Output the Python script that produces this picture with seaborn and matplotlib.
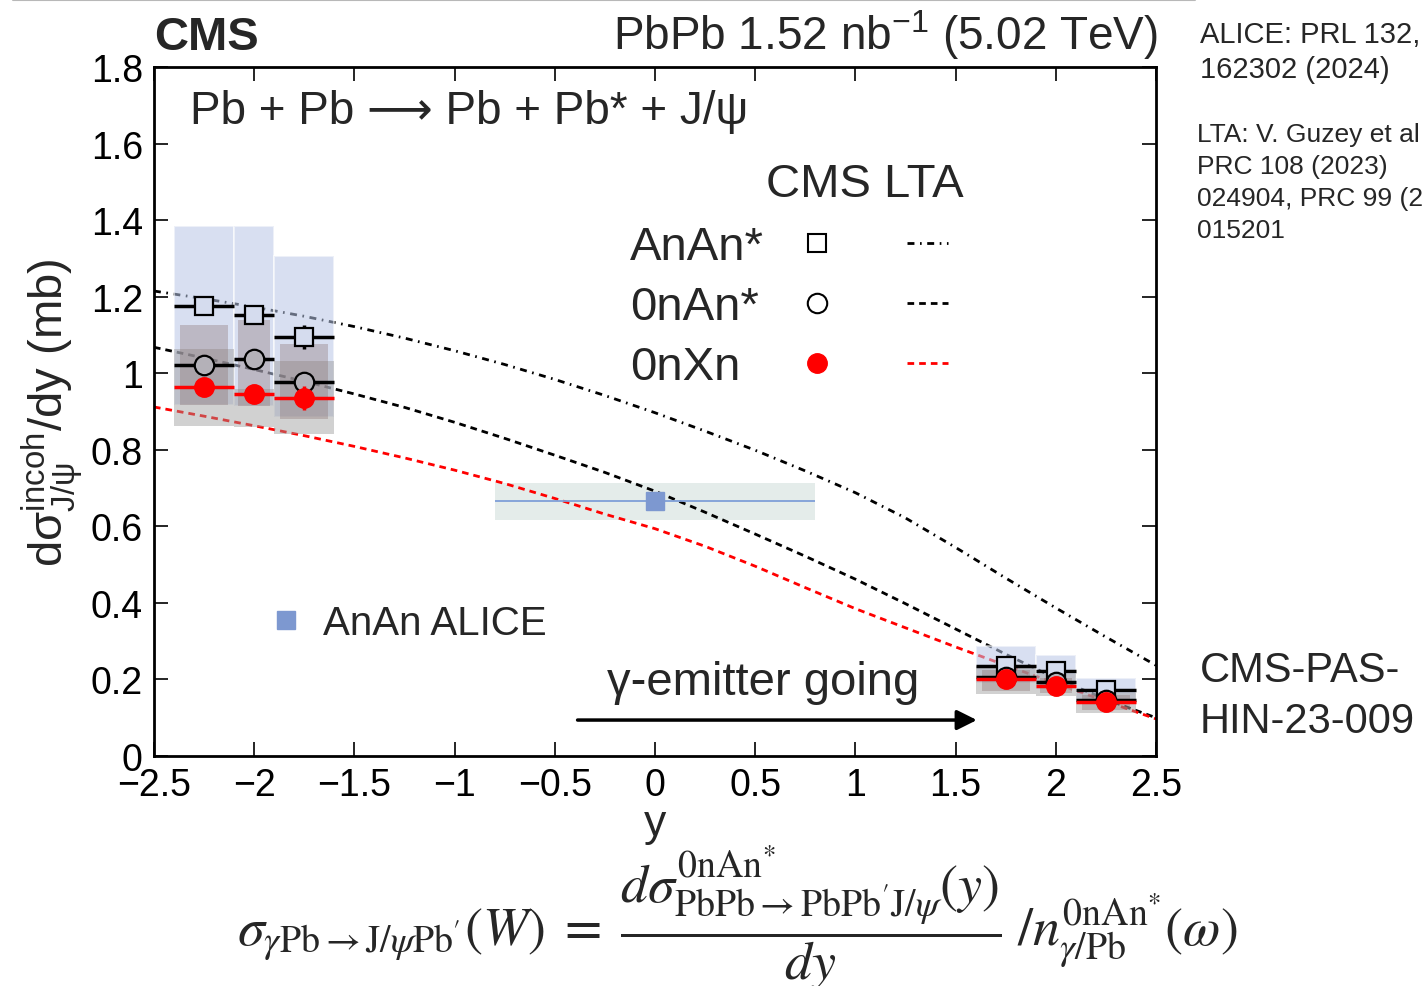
import numpy as np
import seaborn as sns
import matplotlib.pyplot as plt
from matplotlib.lines import Line2D
from matplotlib.legend_handler import HandlerTuple

# --- LTA theory curves ---
y_grid = [-2.5, -2.25, -2.0, -1.75, -1.5, -1.25, -1.0, -0.75, -0.5, -0.25, 0.0,
          0.25, 0.5, 0.75, 1.0, 1.25, 1.5, 1.75, 2.0, 2.25, 2.5]
lta_anan = [1.215, 1.195, 1.173, 1.149, 1.122, 1.092, 1.059, 1.023, 0.984, 0.942, 0.897,
            0.849, 0.799, 0.745, 0.688, 0.622, 0.545, 0.465, 0.387, 0.311, 0.237]
lta_0nan = [1.068, 1.040, 1.010, 0.979, 0.946, 0.911, 0.872, 0.830, 0.786, 0.741, 0.692,
            0.637, 0.580, 0.522, 0.462, 0.398, 0.332, 0.266, 0.203, 0.148, 0.100]
lta_0nxn = [0.912, 0.888, 0.863, 0.837, 0.809, 0.779, 0.747, 0.712, 0.673, 0.632, 0.594,
            0.548, 0.496, 0.440, 0.385, 0.335, 0.285, 0.237, 0.190, 0.143, 0.097]

# --- CMS measurements ---
bin_centers = [-2.25, -2.0, -1.75, 1.75, 2.0, 2.25]
bin_halfw = [0.15, 0.1, 0.15, 0.15, 0.1, 0.15]

anan = [1.176, 1.152, 1.095, 0.236, 0.222, 0.172]
anan_stat = [0.02, 0.02, 0.032, 0.01, 0.01, 0.01]
anan_sys_lo = [0.917, 0.914, 0.886, 0.19, 0.175, 0.14]
anan_sys_hi = [1.385, 1.385, 1.306, 0.287, 0.264, 0.204]

onan = [1.021, 1.037, 0.977, 0.206, 0.193, 0.147]
onan_stat = [0.02, 0.02, 0.02, 0.01, 0.01, 0.01]
onan_sys_lo = [0.862, 0.859, 0.841, 0.162, 0.157, 0.112]
onan_sys_hi = [1.063, 0.96, 1.032, 0.235, 0.215, 0.165]

onxn = [0.964, 0.946, 0.935, 0.200, 0.182, 0.140]
onxn_stat = [0.015, 0.015, 0.032, 0.01, 0.01, 0.01]
onxn_sys_lo = [0.917, 0.914, 0.880, 0.17, 0.165, 0.12]
onxn_sys_hi = [1.126, 1.139, 1.076, 0.225, 0.205, 0.16]

# --- ALICE point ---
alice_x = [0.0]
alice_xerr = [0.8]
alice_y = [0.666]
alice_stat = [0.025]
alice_sys_lo = [0.617]
alice_sys_hi = [0.713]

xtick_vals = [-2.5, -2.0, -1.5, -1.0, -0.5, 0.0, 0.5, 1.0, 1.5, 2.0, 2.5]
xtick_labels = ['\u22122.5', '\u22122', '\u22121.5', '\u22121', '\u22120.5', '0',
                '0.5', '1', '1.5', '2', '2.5']
ytick_vals = [0.0, 0.2, 0.4, 0.6, 0.8, 1.0, 1.2, 1.4, 1.6, 1.8]
ytick_labels = ['0', '0.2', '0.4', '0.6', '0.8', '1', '1.2', '1.4', '1.6', '1.8']

sns.set_theme(style='ticks')
plt.rcParams['font.family'] = ['Liberation Sans', 'DejaVu Sans']
plt.rcParams['mathtext.fontset'] = 'custom'
plt.rcParams['mathtext.rm'] = 'Liberation Sans'
plt.rcParams['mathtext.it'] = 'Liberation Sans:italic'

fig = plt.figure(figsize=(14.24, 9.87), dpi=100)
ax = fig.add_axes([0.1081, 0.233, 0.7037, 0.698])

dashdot = (0, (2.5, 2.0, 0.6, 2.0))
dashed = (0, (2.4, 1.8))

# theory curves
sns.lineplot(x=y_grid, y=lta_anan, ax=ax, color='black', lw=2, linestyle=dashdot, zorder=2)
sns.lineplot(x=y_grid, y=lta_0nan, ax=ax, color='black', lw=2, linestyle=dashed, zorder=2)
sns.lineplot(x=y_grid, y=lta_0nxn, ax=ax, color='red', lw=2, linestyle=dashed, zorder=2)

c = np.array(bin_centers)
hw = np.array(bin_halfw)

# systematic boxes
ax.bar(c - hw, np.array(anan_sys_hi) - np.array(anan_sys_lo), width=2 * hw,
       bottom=anan_sys_lo, align='edge', color='#b8c6e6', alpha=0.55,
       edgecolor='white', lw=1.5, zorder=3)
ax.bar(c - hw, np.array(onan_sys_hi) - np.array(onan_sys_lo), width=2 * hw,
       bottom=onan_sys_lo, align='edge', color='#9a9a9a', alpha=0.45, lw=0, zorder=3)
ax.bar(c - 0.8 * hw, np.array(onxn_sys_hi) - np.array(onxn_sys_lo), width=1.6 * hw,
       bottom=onxn_sys_lo, align='edge', color='#8a7070', alpha=0.35, lw=0, zorder=3)

# ALICE
ax.bar(np.array(alice_x) - np.array(alice_xerr),
       np.array(alice_sys_hi) - np.array(alice_sys_lo), width=2 * np.array(alice_xerr),
       bottom=alice_sys_lo, align='edge', color='#e4ecea', lw=0, zorder=1)
ax.errorbar(alice_x, alice_y, xerr=alice_xerr, yerr=alice_stat, fmt='s', ms=13,
            color='#7d98d0', ecolor='#7f9fd8', elinewidth=1.3, capsize=0, zorder=4)

# CMS points
ax.errorbar(bin_centers, anan, xerr=bin_halfw, yerr=anan_stat, fmt='s', ms=13,
            mfc='#d5dcee', mec='black', mew=1.6, ecolor='black', elinewidth=2.5,
            capsize=0, zorder=5)
ax.errorbar(bin_centers, onan, xerr=bin_halfw, yerr=onan_stat, fmt='o', ms=14,
            mfc='#b4b1b8', mec='black', mew=1.6, ecolor='black', elinewidth=2.5,
            capsize=0, zorder=5)
ax.errorbar(bin_centers, onxn, xerr=bin_halfw, yerr=onxn_stat, fmt='o', ms=14,
            color='red', mec='red', ecolor='red', elinewidth=2.5, capsize=0, zorder=6)

ax.set_xlim(-2.5, 2.5)
ax.set_ylim(0, 1.8)
ax.set_xticks(xtick_vals)
ax.set_xticklabels(xtick_labels)
ax.set_yticks(ytick_vals)
ax.set_yticklabels(ytick_labels)
ax.tick_params(direction='in', length=10, width=1.2, top=True, right=True,
               labelsize=27, pad=8, colors='black')
for s in ax.spines.values():
    s.set_linewidth(2)
    s.set_color('black')

ax.set_xlabel('y', fontsize=32, labelpad=0)
ax.set_ylabel(r'$\mathrm{d\sigma}^{\mathrm{incoh}}_{\mathrm{J/\psi}}\mathrm{/dy\ (mb)}$',
              fontsize=34, labelpad=4)

# legend: CMS / LTA (blank title keeps the space for the header text)
h_anan = (Line2D([], [], marker='s', ls='none', mfc='none', mec='black', ms=13, mew=1.5),
          Line2D([], [], color='black', lw=2, linestyle=dashdot))
h_0nan = (Line2D([], [], marker='o', ls='none', mfc='none', mec='black', ms=14, mew=1.5),
          Line2D([], [], color='black', lw=2, linestyle=dashed))
h_0nxn = (Line2D([], [], marker='o', ls='none', color='red', ms=14),
          Line2D([], [], color='red', lw=2, linestyle=dashed))
leg = ax.legend([h_anan, h_0nan, h_0nxn], ['AnAn*', '0nAn*', '0nXn'],
                handler_map={tuple: HandlerTuple(ndivide=None, pad=1.46)},
                markerfirst=False, title=' ', frameon=False, fontsize=34,
                title_fontsize=34, handlelength=3.2, handletextpad=0.7,
                labelspacing=0.34, loc='upper left', bbox_to_anchor=(0.456, 0.885),
                alignment='right', borderaxespad=0)
# labels left-aligned, keys in one column
for row in leg._legend_handle_box.get_children()[0].get_children():
    row.mode = 'expand'
    row.width = 318
ax.add_artist(leg)
ax.text(0.7096, 0.8128, 'CMS LTA', transform=ax.transAxes, fontsize=34,
        ha='center', va='baseline')

ax.legend([Line2D([], [], marker='s', ls='none', color='#7d98d0', ms=13)], ['AnAn ALICE'],
          loc='center left', bbox_to_anchor=(0.104, 0.193), frameon=False, fontsize=29,
          handlelength=0.6, handletextpad=0.6, borderaxespad=0)

ax.text(0.036, 0.936, 'Pb + Pb \u27f6 Pb + Pb* + J/\u03c8', transform=ax.transAxes,
        fontsize=33, va='center', ha='left')
ax.text(0.54, 0.193, '\u03b3-emitter going', fontsize=34, ha='center', va='center')
ax.annotate('', xy=(1.62, 0.094), xytext=(-0.40, 0.094),
            arrowprops=dict(arrowstyle='-|>', color='black', lw=2.5, mutation_scale=30))

fig.text(0.108, 0.949, 'CMS', fontsize=34, fontweight='bold', va='baseline', ha='left')
fig.text(0.813, 0.949, r'PbPb 1.52 nb$^{\mathrm{-1}}$ (5.02 TeV)', fontsize=33,
         va='baseline', ha='right')

# side notes, one text per line
alice_ref = ['ALICE: PRL 132,', '162302 (2024)']
alice_base = [43, 78]
lta_ref = ['LTA: V. Guzey et al', 'PRC 108 (2023)', '024904, PRC 99 (2019)', '015201']
lta_base = [142, 174, 206, 238]
pas_ref = ['CMS-PAS-', 'HIN-23-009']
pas_base = [682, 733]
for t, b in zip(alice_ref, alice_base):
    fig.text(1200 / 1424, 1 - b / 987, t, fontsize=21, va='baseline', ha='left')
for t, b in zip(lta_ref, lta_base):
    fig.text(1197 / 1424, 1 - b / 987, t, fontsize=19, va='baseline', ha='left')
for t, b in zip(pas_ref, pas_base):
    fig.text(1200 / 1424, 1 - b / 987, t, fontsize=30, va='baseline', ha='left')

fig.text(0.5176, 0.070,
         r'$\sigma_{\gamma\mathrm{Pb}\rightarrow\mathrm{J}/\psi\mathrm{Pb}^{\prime}}(W)\;=\;'
         r'\dfrac{d\sigma^{0\mathrm{nAn}^{*}}_{\mathrm{PbPb}\rightarrow\mathrm{PbPb}^{\prime}'
         r'\mathrm{J}/\psi}(y)}{dy}\;/n^{0\mathrm{nAn}^{*}}_{\gamma/\mathrm{Pb}}(\omega)$',
         fontsize=39, ha='center', va='center', math_fontfamily='stix')

fig.add_artist(Line2D([13 / 1424, 1195 / 1424], [0.9985, 0.9985],
                      transform=fig.transFigure, color='#b8b8b8', lw=1.5))

fig.savefig('out.png', dpi=100)
